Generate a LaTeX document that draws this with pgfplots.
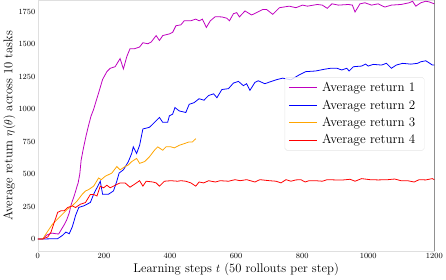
\documentclass[border=0pt]{standalone}
\usepackage{pgfplots}
\pgfplotsset{compat=1.18}
\definecolor{c1}{RGB}{191,0,191}
\definecolor{c2}{RGB}{0,0,255}
\definecolor{c3}{RGB}{255,165,0}
\definecolor{c4}{RGB}{255,0,0}
\begin{document}
\begin{tikzpicture}
\begin{axis}[
  scale only axis,
  width=402pt, height=254pt,
  xmin=0, xmax=1200, ymin=-91, ymax=1841,
  xtick={0,200,...,1200},
  ytick={0,250,...,1750},
  /pgf/number format/1000 sep={},
  axis line style={draw=gray!25},
  major tick length=0pt,
  tick label style={font=\fontsize{8.5}{9}\selectfont},
  xticklabel style={yshift=1pt},
  yticklabel style={xshift=1pt},
  xlabel={Learning steps $t$ (50 rollouts per step)},
  ylabel={Average return $\eta(\theta)$ across 10 tasks},
  label style={font=\fontsize{12.8}{14}\selectfont},
  xlabel style={at={(axis description cs:0.5,-0.075)}, anchor=center},
  ylabel style={at={(axis description cs:-0.072,0.5)}, anchor=center},
  legend style={at={(rel axis cs:0.975,0.693)}, anchor=north east,
    draw=gray!20, rounded corners=2pt, font=\fontsize{13.2}{14.5}\selectfont,
    fill=white, fill opacity=0.8, text opacity=1, draw opacity=1,
    row sep=2.8pt, inner xsep=4pt, inner ysep=3pt,
    nodes={inner xsep=5pt}},
  legend cell align=left,
  legend image code/.code={\draw[#1, opacity=1] (0pt,0pt) -- (28pt,0pt);},
  every axis plot/.append style={line width=0.8pt, sharp plot},
]
\addplot[c1] coordinates {
(0,0)(15,0)(27,30)(42,45)(55,40)(63,38)(72,76)(80,110)(87,144)(95,200)(101,265)(107,310)(113,356)(118,400)(122,432)(127,500)(131,606)(138,700)(146,795)(153,870)(161,947)(169,1000)(176,1060)(184,1126)(196,1230)(209,1290)(219,1316)(234,1328)(249,1391)(259,1311)(269,1404)(279,1467)(293,1467)(308,1480)(318,1513)(333,1505)(343,1518)(358,1568)(368,1530)(378,1568)(398,1581)(408,1593)(418,1644)(433,1651)(443,1682)(463,1682)(478,1695)(488,1682)(498,1695)(510,1631)(522,1682)(537,1714)(557,1712)(572,1702)(580,1682)(592,1737)(602,1745)(610,1712)(627,1758)(647,1727)(662,1745)(681,1770)(692,1770)(711,1732)(731,1783)(761,1795)(781,1783)(801,1803)(816,1795)(846,1808)(861,1803)(876,1778)(890,1813)(910,1803)(940,1808)(952,1803)(960,1750)(975,1813)(990,1821)(1010,1803)(1030,1813)(1050,1788)(1070,1803)(1099,1808)(1124,1821)(1134,1833)(1144,1795)(1159,1821)(1174,1833)(1184,1828)(1200,1813)
};
\addlegendentry{Average return 1}
\addplot[c2] coordinates {
(0,0)(23,0)(60,2)(75,28)(85,53)(95,40)(104,91)(110,142)(114,180)(124,243)(139,255)(159,281)(169,345)(179,395)(189,445)(196,345)(214,345)(229,370)(239,445)(246,508)(259,533)(274,596)(284,659)(289,710)(299,659)(308,722)(318,848)(338,861)(358,911)(368,937)(378,899)(393,899)(398,949)(408,962)(415,1013)(428,987)(448,975)(458,1038)(473,1051)(488,1081)(503,1070)(517,1106)(532,1119)(542,1089)(557,1152)(577,1159)(592,1202)(607,1215)(622,1182)(632,1197)(642,1146)(657,1207)(667,1220)(687,1197)(707,1215)(721,1227)(741,1240)(766,1227)(791,1265)(811,1290)(841,1295)(866,1308)(886,1316)(905,1316)(920,1303)(935,1316)(942,1295)(955,1328)(980,1333)(992,1348)(1000,1333)(1015,1346)(1040,1341)(1055,1354)(1070,1316)(1085,1341)(1104,1354)(1129,1348)(1149,1354)(1159,1366)(1174,1374)(1184,1358)(1194,1341)(1200,1341)
};
\addlegendentry{Average return 2}
\addplot[c3] coordinates {
(0,0)(15,0)(25,40)(35,78)(45,116)(60,154)(75,192)(90,230)(104,255)(119,293)(134,343)(144,369)(154,381)(169,407)(184,470)(192,457)(204,483)(224,508)(239,558)(249,533)(264,558)(274,571)(284,596)(299,621)(308,583)(323,596)(338,634)(353,684)(363,710)(378,684)(388,710)(403,710)(413,702)(428,722)(443,735)(458,748)(468,748)(478,773)
};
\addlegendentry{Average return 3}
\addplot[c4] coordinates {
(0,0)(15,0)(30,15)(40,53)(50,129)(60,205)(70,217)(80,217)(90,242)(104,255)(114,242)(129,268)(144,280)(159,343)(169,343)(179,331)(189,407)(199,394)(209,414)(219,394)(234,414)(249,432)(264,432)(279,399)(294,424)(308,449)(318,407)(328,445)(348,439)(358,432)(368,407)(383,445)(403,449)(423,445)(433,449)(448,445)(463,432)(478,407)(488,439)(502,432)(517,449)(537,439)(552,449)(577,445)(597,457)(612,449)(632,457)(657,439)(672,457)(701,449)(721,445)(736,432)(751,457)(766,445)(781,455)(796,457)(809,439)(821,449)(841,449)(861,445)(876,457)(900,455)(925,455)(945,460)(960,445)(980,465)(1005,457)(1030,455)(1060,457)(1080,462)(1099,449)(1119,449)(1139,439)(1154,457)(1174,455)(1194,465)(1200,457)
};
\addlegendentry{Average return 4}
\draw[black, line width=0.8pt] (rel axis cs:1,0) -- (rel axis cs:1,1);
\end{axis}
\end{tikzpicture}
\end{document}
